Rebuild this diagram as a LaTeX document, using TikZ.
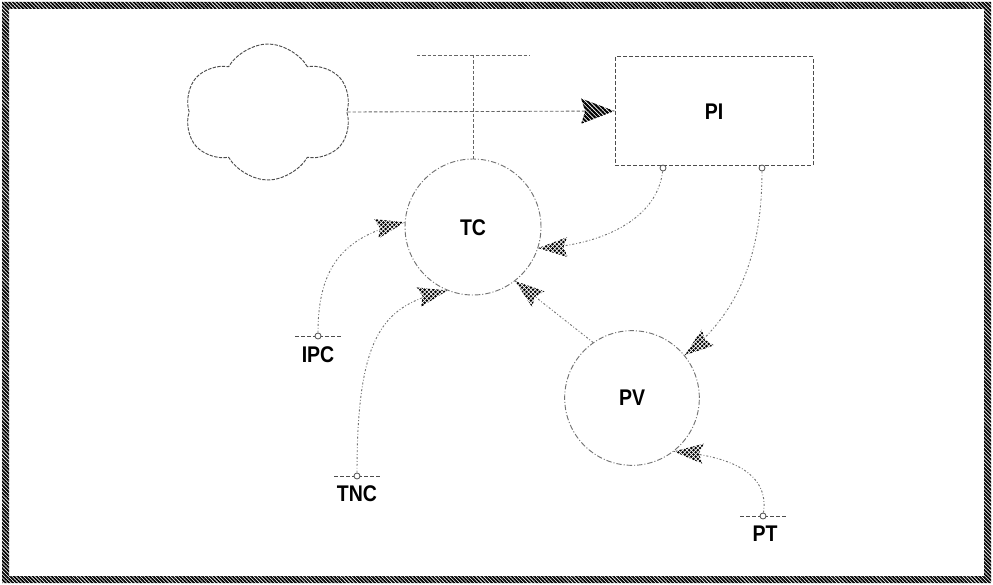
\documentclass[tikz,border=0pt]{standalone}
\usepackage{fontspec}
\setmainfont{Liberation Sans}[FakeStretch=0.86]
\usetikzlibrary{shapes.symbols,decorations.markings,patterns.meta}

\tikzset{
  hatch/.style={pattern={Lines[angle=-45,distance=2.3pt,line width=1.55pt]}},
  framehatch/.style={pattern={Lines[angle=-45,distance=2pt,line width=1.3pt]}},
  lbl/.style={font=\fontsize{17pt}{20pt}\selectfont\bfseries, inner sep=0pt},
  stock/.style={draw=black!70, line width=0.75pt, dash pattern=on 3pt off 1.5pt,
    minimum width=148.5pt, minimum height=81pt, inner sep=0pt},
  aux/.style={circle, draw=black!55, line width=0.7pt,
    dash pattern=on 4pt off 1.5pt on 0.8pt off 1.5pt, inner sep=0pt},
  source/.style={cloud, cloud puffs=6, cloud puff arc=120, cloud ignores aspect,
    draw=black!70, line width=0.7pt, dash pattern=on 2.5pt off 1pt,
    minimum width=125pt, minimum height=102pt, inner sep=0pt},
  marker/.style={circle, draw=black!70, fill=white, line width=0.6pt,
    minimum size=4.5pt, inner sep=0pt},
  tick/.style={draw=black!70, line width=0.6pt, dash pattern=on 3pt off 1.5pt},
  flowline/.style={draw=black!60, line width=0.65pt, dash pattern=on 2.5pt off 1.5pt},
  link/.style={draw=black!55, line width=0.7pt,
    dash pattern=on 1.5pt off 1.5pt on 0.6pt off 1.5pt},
  linktip/.style={postaction={decorate}, decoration={markings,
    mark=at position 0.9999 with {
      \fill[white] (0,0) -- (-22pt,7.5pt) -- (-19pt,0pt) -- (-22pt,-7.5pt) -- cycle;
      \fill[hatch] (0,0) -- (-22pt,7.5pt) -- (-19pt,0pt) -- (-22pt,-7.5pt) -- cycle;}}},
  flowtip/.style={postaction={decorate}, decoration={markings,
    mark=at position 0.9999 with {
      \fill[white] (0,0) -- (-25pt,9.5pt) -- (-22pt,0pt) -- (-25pt,-9.5pt) -- cycle;
      \fill[hatch] (0,0) -- (-25pt,9.5pt) -- (-22pt,0pt) -- (-25pt,-9.5pt) -- cycle;}}}
}

\begin{document}
\begin{tikzpicture}[x=0.75pt, y=-0.75pt]
  \useasboundingbox (0,0) rectangle (993,585);

  % hatched frame
  \fill[framehatch, even odd rule] (2,2) rectangle (991,583) (9,9) rectangle (984,576);

  % stock, source and converters
  \node[source] (cloud) at (268,112) {};
  \node[stock] (PI) at (714,111) {};
  \node[lbl] (PIlabel) at (714,112) {PI};
  \node[aux, minimum size=102pt] (TC) at (473,227) {};
  \node[lbl] (TClabel) at (473,228) {TC};
  \node[aux, minimum size=101pt] (PV) at (632,398) {};
  \node[lbl] (PVlabel) at (632,398) {PV};

  % flow valve
  \coordinate (vL) at (417,55);
  \coordinate (vR) at (530,55);
  \coordinate (vT) at (473,55);
  \draw[flowline] (vL) -- (vR);
  \draw[flowline] (vT) -- (TC.north);

  % flow from the source into PI
  \draw[flowline, flowtip] (cloud.east) -- (PI.west);

  % constants with their tick lines
  \coordinate (IPCa) at (295,336); \coordinate (IPCb) at (341,336);
  \coordinate (TNCa) at (334,476); \coordinate (TNCb) at (380,476);
  \coordinate (PTa) at (740,516);  \coordinate (PTb) at (786,516);
  \draw[tick] (IPCa) -- (IPCb);
  \draw[tick] (TNCa) -- (TNCb);
  \draw[tick] (PTa) -- (PTb);
  \node[marker] (IPC) at (318,336) {};
  \node[marker] (TNC) at (357,476) {};
  \node[marker] (PT) at (763,516) {};
  \node[lbl] (IPClabel) at (318,355) {IPC};
  \node[lbl] (TNClabel) at (357,494) {TNC};
  \node[lbl] (PTlabel) at (765,534) {PT};

  % taps on the bottom of PI
  \node[marker] (PIa) at (663,168) {};
  \node[marker] (PIb) at (762,168) {};

  % information links
  \draw[link, linktip] (IPC) .. controls (318,265) and (345,236) .. (TC.176);
  \draw[link, linktip] (TNC) .. controls (357,330) and (385,305) .. (TC.248);
  \draw[link, linktip] (PIa) .. controls (657,220) and (600,246) .. (TC.342);
  \draw[link, linktip] (PV.125) -- (TC.308);
  \draw[link, linktip] (PIb) .. controls (762,270) and (728,322) .. (PV.39);
  \draw[link, linktip] (PT) .. controls (770,468) and (720,455) .. (PV.308);
\end{tikzpicture}
\end{document}
